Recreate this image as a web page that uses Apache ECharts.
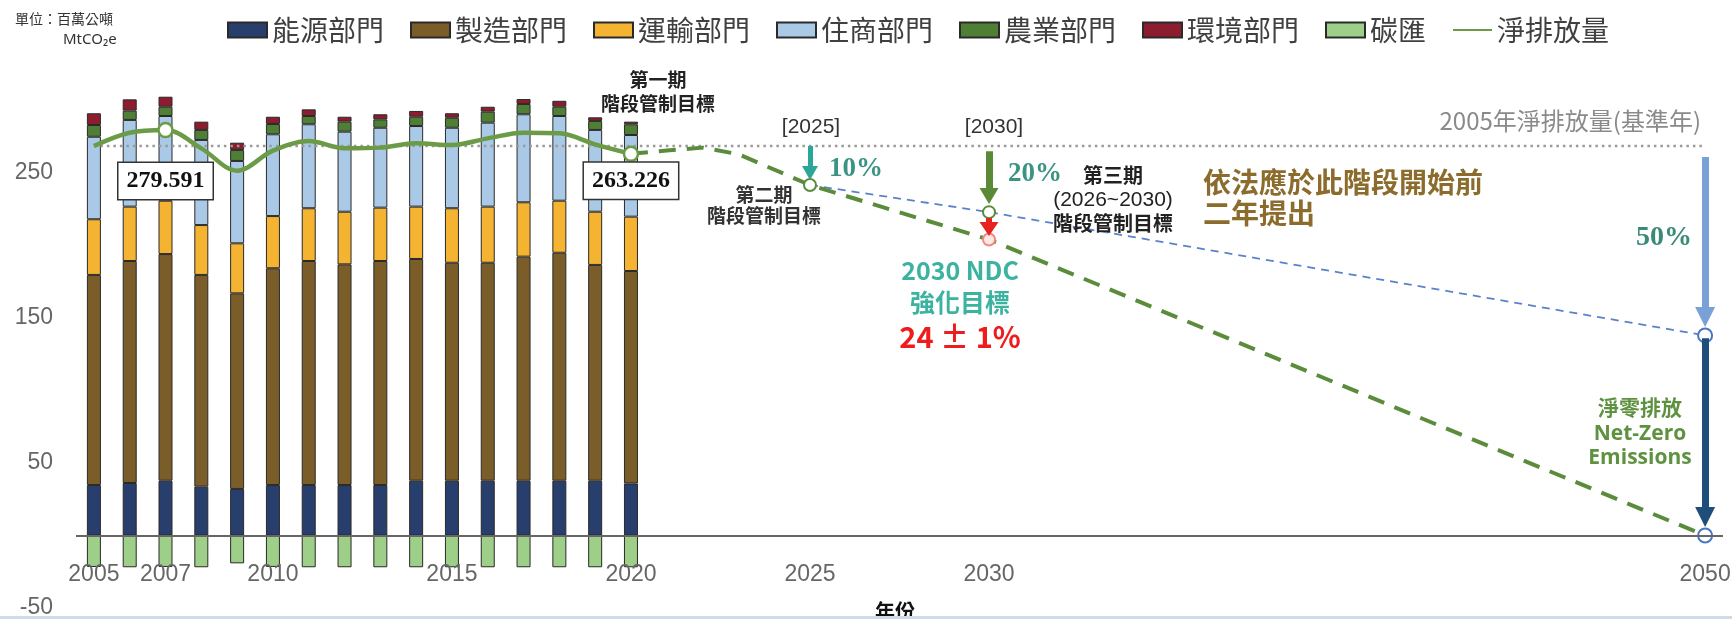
<!DOCTYPE html>
<html>
<head>
<meta charset="utf-8">
<script src="https://cdn.jsdelivr.net/npm/echarts@6/dist/echarts.min.js"></script>
<style>
  html, body { margin: 0; padding: 0; background: #ffffff; }
  #chart { width: 1732px; height: 619px; }
</style>
</head>
<body>
<div id="chart"></div>
<script>
// Year axis 2005–2050 (historical inventory 2005–2020, targets afterwards)
const years = [];
for (let y = 2005; y <= 2050; y++) years.push(String(y));
const yearTicks = ['2005', '2007', '2010', '2015', '2020', '2025', '2030', '2050'];

// Sector emissions, MtCO2e, 2005–2020
const energy        = [34.8, 36.2, 37.8, 33.7, 32.1, 34.8, 34.8, 34.8, 34.8, 37.8, 37.8, 37.8, 37.8, 37.8, 37.8, 35.9];
const manufacturing = [144.9, 153.1, 156.3, 146.0, 134.9, 149.5, 154.5, 152.2, 154.5, 152.9, 150.3, 150.3, 154.5, 157.2, 148.8, 146.5];
const transport     = [38.4, 37.5, 36.8, 34.4, 34.5, 36.0, 36.4, 36.3, 36.8, 36.1, 37.6, 38.7, 37.5, 35.9, 36.7, 37.5];
const residential   = [56.9, 59.8, 58.4, 58.7, 56.8, 56.4, 57.9, 55.2, 55.1, 55.6, 55.5, 57.9, 60.7, 58.4, 56.4, 56.3];
const agriculture   = [8.1, 6.4, 6.4, 6.9, 7.6, 7.1, 5.7, 6.9, 5.8, 6.4, 6.9, 7.6, 7.1, 6.4, 6.2, 7.4];
const environment   = [8.1, 7.8, 6.9, 5.7, 5.0, 5.0, 4.6, 3.4, 3.5, 4.0, 3.1, 3.4, 3.4, 4.1, 2.5, 1.8];
const carbonSink    = [-21.7, -21.9, -21.7, -21.9, -19.2, -21.7, -21.9, -21.9, -21.9, -21.9, -21.9, -21.9, -21.9, -21.9, -21.9, -21.9];
const netEmission   = [268.6, 277.8, 279.591, 267.0, 251.6, 265.4, 272.0, 267.0, 267.5, 270.5, 269.3, 273.9, 277.8, 277.4, 269.8, 263.226];
const labelledYears = ['2007', '2020'];

// 2005 base-year net emission (dotted reference line)
const baseYears = ['2005', '2050'];
const baseValue = 268.6;

// Reduction pathway toward net zero
const pathYears  = ['2020', '2021', '2022', '2023', '2025', '2030', '2050'];
const pathValues = [263.226, 265.5, 267.5, 263.0, 241.7, 204.1, 0];

// Stage-target line (2025 → 2030 → 2050)
const stageYears  = ['2025', '2030', '2050'];
const stageValues = [241.7, 223.0, 138.0];

// Reduction arrows: year, start value, end value
const arrowYears = ['2025', '2030', '2030', '2050', '2050'];
const arrowStart = [268.6, 265.0, 219.0, 261.0, 136.0];
const arrowEnd   = [250.0, 234.1, 211.4, 150.7, 12.8];

const cjk = "'Noto Sans CJK TC', 'Noto Sans', sans-serif";
const sans = "'Liberation Sans', Arial, sans-serif";
const serif = "'Liberation Serif', 'DejaVu Serif', serif";
const latin = "'Open Sans', 'Noto Sans', sans-serif";

const arrowStyles = [
  { color: '#2ba698', width: 5, head: [16, 14] },
  { color: '#5a8a38', width: 7, head: [19, 16] },
  { color: '#e8231f', width: 6, head: [19, 14] },
  { color: '#7aa0d8', width: 7, head: [20, 20] },
  { color: '#1f4e7b', width: 7, head: [20, 20] }
];

const barBorder = { borderColor: '#2a2a2a', borderWidth: 1 };
function barSeries(name, data, color, extra) {
  return Object.assign({
    name, type: 'bar', stack: 'total', data, barWidth: 14,
    itemStyle: Object.assign({ color }, barBorder),
    emphasis: { disabled: true }
  }, extra || {});
}

const valueBox = {
  show: true,
  position: 'inside',
  formatter: p => String(p.value),
  fontFamily: serif, fontWeight: 'bold', fontSize: 24, color: '#111',
  backgroundColor: '#ffffff', borderColor: '#333', borderWidth: 1.5,
  padding: [7, 8, 5, 8]
};
const boxOffsets = { '2007': 51, '2020': 27 };

const netData = netEmission.map((v, i) => {
  const yr = years[i];
  if (!labelledYears.includes(yr)) return v;
  return {
    value: v, symbol: 'circle', symbolSize: 14,
    itemStyle: { color: '#ffffff', borderColor: '#6b9b47', borderWidth: 2.5 },
    label: Object.assign({}, valueBox, { offset: [0, boxOffsets[yr]] })
  };
});

const circle = (border, size) => ({
  symbol: 'circle', symbolSize: size,
  itemStyle: { color: '#ffffff', borderColor: border, borderWidth: 2 }
});
const pathMarks = {
  '2025': circle('#5b8c3c', 12),
  '2030': { symbol: 'circle', symbolSize: 12, itemStyle: { color: '#fde8e6', borderColor: '#ef8a80', borderWidth: 2 } },
  '2050': circle('#4a78c0', 14)
};
const pathData = pathYears.map((yr, i) =>
  Object.assign({ value: [yr, pathValues[i]] }, pathMarks[yr] || {}));
const stageMarks = { '2030': circle('#5b8c3c', 12), '2050': circle('#4a78c0', 14) };
const stageData = stageYears.map((yr, i) =>
  Object.assign({ value: [yr, stageValues[i]] }, stageMarks[yr] || {}));

const arrowData = arrowYears.map((yr, i) => [
  { coord: [yr, arrowStart[i]], lineStyle: { color: arrowStyles[i].color, width: arrowStyles[i].width, type: 'solid' } },
  { coord: [yr, arrowEnd[i]], symbolSize: arrowStyles[i].head }
]);

function txt(x, y, text, style) {
  return {
    type: 'text', x, y, silent: true, z: 100,
    style: Object.assign({ text, fontFamily: cjk, fill: '#222', align: 'center', verticalAlign: 'middle' }, style)
  };
}

const chart = echarts.init(document.getElementById('chart'), null, { renderer: 'canvas' });
chart.setOption({
  animation: false,
  textStyle: { fontFamily: cjk },
  grid: { left: 76, right: 9, top: 57, bottom: 11, containLabel: false, outerBoundsMode: 'none' },
  legend: {
    left: 222, top: 11,
    itemWidth: 39, itemHeight: 15, itemGap: 26,
    textStyle: { fontSize: 28, color: '#404040', fontFamily: cjk },
    data: [
      { name: '能源部門', icon: 'rect' },
      { name: '製造部門', icon: 'rect' },
      { name: '運輸部門', icon: 'rect' },
      { name: '住商部門', icon: 'rect' },
      { name: '農業部門', icon: 'rect' },
      { name: '環境部門', icon: 'rect' },
      { name: '碳匯', icon: 'rect' },
      { name: '淨排放量', itemStyle: { opacity: 0, borderWidth: 0 } }
    ],
    selectedMode: false
  },
  xAxis: {
    type: 'category', data: years, boundaryGap: true, z: 10,
    axisLine: { show: false, onZero: false },
    axisTick: { show: false },
    axisLabel: {
      interval: (idx, val) => yearTicks.includes(val),
      fontFamily: sans, fontSize: 23, color: '#666', margin: -45
    },
    splitLine: { show: false }
  },
  yAxis: {
    type: 'value', min: -50, max: 330, interval: 100,
    axisLine: { show: false }, axisTick: { show: false },
    splitLine: { show: false },
    axisLabel: { fontFamily: sans, fontSize: 23, color: '#666', margin: 23, showMaxLabel: false }
  },
  series: [
    barSeries('能源部門', energy, '#283e6d'),
    barSeries('製造部門', manufacturing, '#7b5d29'),
    barSeries('運輸部門', transport, '#f4b431'),
    barSeries('住商部門', residential, '#aac9e7'),
    barSeries('農業部門', agriculture, '#4f7f35'),
    barSeries('環境部門', environment, '#8d1c2e'),
    barSeries('碳匯', carbonSink, '#9dcf88', {
      markLine: {
        silent: true, animation: false, symbol: ['none', 'none'],
        label: { show: false }, emphasis: { disabled: true },
        lineStyle: { color: '#666', width: 2, type: 'solid' },
        data: [{ yAxis: 0 }]
      }
    }),
    {
      name: 'base', type: 'line', data: baseYears.map(y => [y, baseValue]),
      symbol: 'none', silent: true,
      lineStyle: { color: '#9a9a9a', width: 2.5, type: [2.5, 4] },
      markLine: {
        silent: true, animation: false,
        symbol: ['none', 'triangle'],
        label: { show: false },
        emphasis: { disabled: true },
        data: arrowData
      }
    },
    {
      name: 'stage', type: 'line', data: stageData, symbol: 'none', showAllSymbol: true, silent: true,
      lineStyle: { color: '#5b82c9', width: 1.8, type: [8, 6] }
    },
    {
      name: 'pathway', type: 'line', data: pathData, symbol: 'none', showAllSymbol: true, silent: true,
      lineStyle: { color: '#5b8c3c', width: 4, type: [17, 11] }
    },
    {
      name: '淨排放量', type: 'line', data: netData, symbol: 'none', showAllSymbol: true,
      smooth: 0.35, silent: true,
      itemStyle: { color: '#6b9b47' },
      lineStyle: { color: '#6b9b47', width: 4.5 },
      z: 4
    }
  ],
  graphic: [
    txt(15, 19, '單位：百萬公噸', { align: 'left', fontSize: 14, fill: '#333' }),
    txt(63, 40, 'MtCO₂e', { align: 'left', fontSize: 15, fill: '#333', fontFamily: "'Noto Sans', sans-serif" }),
    txt(658, 80, '第一期', { fontSize: 19, fontWeight: 'bold' }),
    txt(658, 104, '階段管制目標', { fontSize: 19, fontWeight: 'bold' }),
    txt(811, 127, '[2025]', { fontSize: 21, fill: '#333', fontFamily: sans }),
    txt(994, 127, '[2030]', { fontSize: 21, fill: '#333', fontFamily: sans }),
    txt(764, 195, '第二期', { fontSize: 19, fontWeight: 'bold', fill: '#333' }),
    txt(764, 216, '階段管制目標', { fontSize: 19, fontWeight: 'bold', fill: '#333' }),
    txt(829, 169, '10%', { align: 'left', fontSize: 27, fontWeight: 'bold', fill: '#3a9484', fontFamily: serif }),
    txt(1008, 174, '20%', { align: 'left', fontSize: 27, fontWeight: 'bold', fill: '#3b9382', fontFamily: serif }),
    txt(1113, 175, '第三期', { fontSize: 20, fontWeight: 'bold' }),
    txt(1113, 200, '(2026~2030)', { fontSize: 21, fill: '#222', fontFamily: sans }),
    txt(1113, 223, '階段管制目標', { fontSize: 20, fontWeight: 'bold' }),
    txt(1203, 182, '依法應於此階段開始前', { align: 'left', fontSize: 28, fontWeight: 'bold', fill: '#8c6c2c' }),
    txt(1203, 213, '二年提出', { align: 'left', fontSize: 28, fontWeight: 'bold', fill: '#8c6c2c' }),
    txt(1701, 121, '2005年淨排放量(基準年)', { align: 'right', fontSize: 24, fill: '#8a8a8a' }),
    txt(1636, 238, '50%', { align: 'left', fontSize: 28, fontWeight: 'bold', fill: '#3b8a77', fontFamily: serif }),
    txt(960, 270, '2030 NDC', { fontSize: 25, fontWeight: 'bold', fill: '#3bb3a0' }),
    txt(960, 302, '強化目標', { fontSize: 25, fontWeight: 'bold', fill: '#3bb3a0' }),
    txt(960, 337, '24 ± 1%', { fontSize: 29, fontWeight: 'bold', fill: '#ee1c1c' }),
    txt(1640, 407, '淨零排放', { fontSize: 21, fontWeight: 'bold', fill: '#5e9140' }),
    txt(1640, 434, 'Net-Zero', { fontSize: 21, fontWeight: 'bold', fill: '#5e9140', fontFamily: latin }),
    txt(1640, 458, 'Emissions', { fontSize: 21, fontWeight: 'bold', fill: '#5e9140', fontFamily: latin }),
    txt(895, 611, '年份', { fontSize: 20, fontWeight: 'bold', fill: '#111' }),
    { type: 'rect', silent: true, z: 100, shape: { x: 0, y: 616, width: 1732, height: 3 }, style: { fill: '#cfdbe6' } }
  ]
});
</script>
</body>
</html>
